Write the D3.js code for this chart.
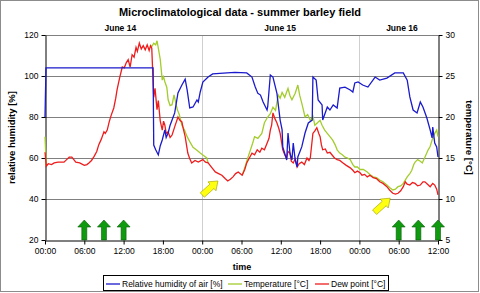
<!DOCTYPE html>
<html>
<head>
<meta charset="utf-8">
<script src="https://cdn.jsdelivr.net/npm/d3@7"></script>
<style>
  body { margin: 0; background: #fff; }
  svg { display: block; font-family: "Liberation Sans", Arial, sans-serif; }
</style>
</head>
<body>
<div id="chart"></div>
<script>
// hours since June 14 00:00
const rhTime = [0.0, 0.15, 16.5, 16.6, 16.9, 17.3, 17.6, 17.9, 18.3, 18.5, 18.8, 19.1, 19.4, 19.8, 20.3, 20.9, 21.4, 21.7, 22.1, 22.6, 23.2, 23.4, 23.7, 24.1, 24.9, 25.6, 27.8, 29.0, 30.8, 31.6, 32.1, 32.5, 32.9, 33.3, 33.9, 34.0, 34.4, 34.8, 35.4, 35.9, 36.2, 36.3, 36.9, 37.1, 37.4, 37.7, 37.9, 38.2, 38.5, 38.6, 39.2, 39.7, 40.2, 40.8, 40.9, 41.4, 41.7, 42.3, 42.4, 43.1, 43.5, 44.0, 44.6, 45.0, 45.8, 46.6, 47.0, 47.3, 47.8, 48.5, 49.3, 50.4, 51.1, 52.2, 53.4, 54.7, 55.3, 55.7, 56.2, 56.8, 57.3, 57.7, 58.3, 58.8, 59.1, 59.2, 59.5, 59.8, 60.0];
const rhValue = [80, 104, 104, 66.3, 64, 61.5, 66, 68.8, 73.7, 70, 72.2, 76, 78.5, 82, 91.7, 95.6, 98.5, 93.2, 84.4, 84.9, 88.3, 87.3, 92.2, 97, 99.5, 101, 101.5, 101.8, 101.5, 99.5, 94.6, 91.5, 90.7, 87.3, 83.4, 85, 100.5, 99.5, 91.7, 78.5, 73.7, 65.4, 59, 72.2, 62.4, 59, 67.3, 59, 55.6, 60.5, 65.4, 72.2, 77.1, 78.5, 99.5, 98, 88.3, 85.9, 78.5, 84.9, 83.4, 85.9, 84.4, 94.1, 94.6, 93.2, 92.2, 96.6, 97.1, 95.6, 94.6, 99.5, 98, 99, 101.5, 101.5, 98, 89.8, 83.4, 82, 87.3, 84.9, 79.5, 73.7, 69.8, 75.1, 67.3, 65.4, 60.5];

const tempTime = [0.0, 0.2, null, 16.1, 16.3, 16.6, 16.9, 17.1, 17.3, 17.6, 17.9, 18.1, 18.3, 18.6, 18.8, 19.1, 19.4, 19.7, 19.9, 20.2, 20.5, 20.9, 21.3, 21.7, 22.1, 22.6, 23.1, 23.7, 24.2, 24.7, 24.9, null, 30.1, 30.5, 30.8, 31.2, 31.7, 32.0, 32.5, 33.1, 33.5, 34.0, 34.4, 34.8, 35.2, 35.6, 35.9, 36.2, 36.6, 37.1, 37.4, 37.7, 38.2, 38.6, 38.9, 39.2, 39.7, 40.1, 40.5, 40.9, 41.2, 41.6, 42.0, 42.3, 42.7, 43.1, 43.5, 43.9, 44.3, 44.6, 45.0, 45.4, 45.8, 46.2, 46.6, 47.0, 47.3, 47.7, 48.1, 48.6, 49.2, 49.6, 50.1, 50.6, 51.1, 51.6, 52.2, 52.6, 53.1, 53.5, 53.9, 54.3, 54.7, 55.0, 55.3, 55.7, 56.0, 56.3, 56.5, 56.9, 57.3, 57.6, 58.0, 58.5, 58.8, 59.1, 59.5, 59.8, 60.0];
const tempValue = [17.6, 14.0, null, 28.7, 28.6, 29.0, 28.8, 29.3, 28.4, 27.0, 24.5, 24.9, 24.3, 23.6, 22.1, 21.4, 21.5, 22.7, 22.0, 20.9, 20.3, 19.0, 18.4, 17.6, 17.0, 16.3, 16.0, 15.6, 15.3, 15.0, 14.4, null, 12.9, 13.8, 14.6, 15.6, 16.8, 17.6, 17.4, 18.0, 19.3, 20.0, 20.4, 21.2, 20.8, 22.7, 22.3, 23.0, 22.4, 23.5, 22.6, 22.1, 22.9, 23.9, 22.6, 21.7, 20.0, 20.3, 19.6, 20.1, 19.0, 19.3, 19.6, 19.0, 18.4, 18.0, 17.6, 17.2, 16.6, 16.0, 15.6, 15.4, 15.1, 15.0, 14.8, 14.2, 13.9, 13.9, 13.6, 13.6, 13.3, 13.0, 12.7, 12.6, 12.3, 12.1, 11.7, 11.4, 11.1, 11.2, 11.5, 11.6, 11.9, 12.3, 12.7, 13.1, 13.5, 14.2, 14.5, 14.8, 14.6, 14.4, 15.1, 16.0, 16.4, 17.2, 18.0, 18.4, 17.6];

const dewTime = [0.0, 0.2, 0.5, 1.0, 1.4, 2.0, 2.9, 3.3, 3.7, 4.1, 4.4, 4.7, 5.3, 6.0, 6.4, 6.7, 7.1, 7.5, 7.9, 8.2, 8.6, 9.0, 9.2, 9.5, 9.8, 10.1, 10.5, 10.8, 11.0, 11.4, 11.8, 12.1, 12.4, 12.7, 13.0, 13.3, 13.6, 13.9, 14.1, 14.4, 14.7, 15.0, 15.3, 15.6, 15.9, 16.1, 16.3, 16.6, 16.8, 17.1, 17.3, 17.6, 17.9, 18.1, 18.3, 18.5, 18.8, 19.1, 19.4, 19.8, 20.3, 20.6, 20.9, 21.1, 21.4, 21.8, 22.1, 22.4, 22.9, 23.4, 24.1, 24.5, 24.9, 25.5, 26.0, 26.5, 27.0, 27.5, 27.9, 28.3, 28.7, 29.1, 29.5, 30.1, 30.5, 30.8, 31.2, 31.6, 32.0, 32.4, 32.8, 33.1, 33.5, 33.9, 34.2, 34.4, 34.6, 34.8, 35.1, 35.4, 35.7, 35.9, 36.1, 36.3, 36.6, 36.9, 37.1, 37.4, 37.6, 37.9, 38.2, 38.5, 38.8, 39.2, 39.6, 40.0, 40.3, 40.5, 40.7, 40.9, 41.2, 41.5, 41.8, 42.0, 42.2, 42.4, 42.8, 43.1, 43.5, 43.8, 44.2, 44.6, 45.0, 45.5, 46.0, 46.6, 47.0, 47.3, 47.7, 48.1, 48.4, 48.8, 49.2, 49.6, 50.1, 50.6, 51.1, 51.6, 52.2, 52.6, 53.1, 53.5, 53.9, 54.3, 54.7, 55.0, 55.3, 55.7, 56.1, 56.5, 56.9, 57.3, 57.7, 58.0, 58.4, 58.8, 59.2, 59.5, 59.8, 60.0];
const dewValue = [15.7, 14.0, 14.3, 14.2, 14.4, 14.5, 14.5, 14.8, 15.1, 15.1, 14.8, 14.5, 14.4, 14.1, 14.2, 14.4, 14.7, 15.2, 15.8, 16.6, 17.3, 18.2, 18.0, 18.4, 19.4, 20.2, 21.1, 22.3, 23.3, 24.8, 26.1, 26.0, 26.6, 27.0, 26.1, 27.6, 27.3, 28.5, 28.0, 29.0, 28.3, 28.7, 28.2, 28.8, 28.1, 28.7, 28.4, 22.4, 23.5, 20.9, 22.0, 19.5, 18.4, 19.5, 19.0, 18.0, 18.2, 17.5, 17.8, 18.8, 20.0, 19.6, 19.4, 18.6, 17.6, 15.6, 14.9, 14.4, 14.7, 14.5, 14.8, 14.5, 14.4, 13.8, 13.3, 13.1, 12.9, 12.5, 12.2, 12.4, 12.7, 13.1, 13.3, 12.9, 13.6, 14.4, 15.0, 15.6, 15.4, 16.0, 15.7, 16.2, 16.0, 16.8, 17.4, 18.4, 19.0, 20.5, 19.8, 19.3, 18.6, 18.0, 17.0, 16.0, 15.4, 15.0, 15.8, 15.6, 14.6, 14.4, 14.9, 13.9, 14.3, 14.5, 14.2, 15.0, 14.7, 15.0, 16.5, 18.0, 18.3, 18.7, 18.0, 17.6, 16.6, 16.0, 16.1, 15.6, 15.7, 15.4, 15.0, 14.8, 14.7, 14.4, 14.1, 13.8, 13.5, 13.2, 13.4, 13.2, 12.9, 13.0, 12.7, 12.9, 12.6, 12.5, 12.1, 11.9, 11.5, 11.1, 10.7, 10.6, 10.7, 11.0, 11.5, 12.1, 11.8, 11.7, 12.0, 11.9, 11.6, 11.7, 12.1, 12.1, 11.8, 11.5, 11.9, 11.7, 11.2, 10.5];

const rhTicks = [20, 40, 60, 80, 100, 120];
const tempTicks = [5, 10, 15, 20, 25, 30];
const timeTicks = [0, 6, 12, 18, 24, 30, 36, 42, 48, 54, 60];
const dayLabels = ["June 14", "June 15", "June 16"];
const dayLabelTimes = [11.5, 35.9, 54.5];
const dayBreaks = [24, 48];
const greenArrowTimes = [6, 9, 12, 54, 57, 60];
const yellowArrowTimes = [26.4, 52.7];
const yellowArrowTemps = [12.2, 10.1];

const width = 480;
const height = 293;

const x = d3.scaleLinear().domain([0, 60]).range([45, 438]);
const yRH = d3.scaleLinear().domain([20, 120]).range([240, 35]);
const yT = d3.scaleLinear().domain([5, 30]).range([240, 35]);

const svg = d3.select("#chart")
  .append("svg")
    .attr("width", width)
    .attr("height", height);

svg.append("rect")
  .attr("x", 0.5).attr("y", 0.5)
  .attr("width", width - 2).attr("height", height - 2)
  .attr("fill", "#fff")
  .attr("stroke", "#8c8c8c");

// grid
svg.append("g")
  .selectAll("line")
  .data(dayBreaks)
  .join("line")
    .attr("x1", d => Math.round(x(d)) + 0.5).attr("x2", d => Math.round(x(d)) + 0.5)
    .attr("y1", yRH(120)).attr("y2", yRH(20))
    .attr("stroke", "#cfcfcf");

svg.append("g")
  .selectAll("line")
  .data(rhTicks.slice(1))
  .join("line")
    .attr("x1", x(0)).attr("x2", x(60))
    .attr("y1", d => Math.round(yRH(d)) + 0.5).attr("y2", d => Math.round(yRH(d)) + 0.5)
    .attr("stroke", "#808080");

// axes
const fmtTime = d => String(d % 24).padStart(2, "0") + ":00";

const gx = svg.append("g")
  .attr("transform", `translate(0,${yRH(20) + 0.5})`)
  .call(d3.axisBottom(x).tickValues(timeTicks).tickFormat(fmtTime).tickSize(4).tickSizeOuter(0).tickPadding(3));

const gl = svg.append("g")
  .attr("transform", `translate(${x(0) + 0.5},0)`)
  .call(d3.axisLeft(yRH).tickValues(rhTicks).tickSize(4).tickSizeOuter(0).tickPadding(3));

const gr = svg.append("g")
  .attr("transform", `translate(${x(60) + 0.5},0)`)
  .call(d3.axisRight(yT).tickValues(tempTicks).tickSize(4).tickSizeOuter(0).tickPadding(3));

[gx, gl, gr].forEach(g => {
  g.selectAll("text").attr("font-size", 8.5).attr("fill", "#000").attr("font-family", "Liberation Sans, Arial, sans-serif");
  g.selectAll("line").attr("stroke", "#000");
  g.select(".domain").attr("stroke", "#000");
});

// lines
const line = (xs, ys, yScale) => d3.line()
  .defined((d, i) => xs[i] != null && ys[i] != null)
  .x((d, i) => x(xs[i]))
  .y((d, i) => yScale(ys[i]))(xs);

svg.append("path")
  .attr("d", line(tempTime, tempValue, yT))
  .attr("fill", "none").attr("stroke", "#a3cc2c").attr("stroke-width", 1.3);

svg.append("path")
  .attr("d", line(dewTime, dewValue, yT))
  .attr("fill", "none").attr("stroke", "#ee1c1c").attr("stroke-width", 1.3);

svg.append("path")
  .attr("d", line(rhTime, rhValue, yRH))
  .attr("fill", "none").attr("stroke", "#1a1acc").attr("stroke-width", 1.3);

// arrows
svg.append("g")
  .selectAll("path")
  .data(greenArrowTimes)
  .join("path")
    .attr("transform", d => `translate(${x(d)},${yRH(20)})`)
    .attr("d", "M-2.5,0 L-2.5,-13 L-6.5,-13 L0,-20 L6.5,-13 L2.5,-13 L2.5,0 Z")
    .attr("fill", "#109a10")
    .attr("stroke", "#0a5a0a")
    .attr("stroke-width", 0.6);

svg.append("g")
  .selectAll("path")
  .data(yellowArrowTimes)
  .join("path")
    .attr("transform", (d, i) => `translate(${x(d)},${yT(yellowArrowTemps[i])}) rotate(-42)`)
    .attr("d", "M0,0 L-8,-6 L-8,-3 L-21,-3 L-21,3 L-8,3 L-8,6 Z")
    .attr("fill", "#ffff10")
    .attr("stroke", "#a0a000")
    .attr("stroke-width", 0.6);

// texts
svg.append("text")
  .attr("x", 240).attr("y", 16)
  .attr("text-anchor", "middle")
  .attr("font-size", 11).attr("font-weight", "bold")
  .text("Microclimatological data - summer barley field");

svg.append("g")
  .selectAll("text")
  .data(dayLabels)
  .join("text")
    .attr("x", (d, i) => x(dayLabelTimes[i]))
    .attr("y", 31)
    .attr("text-anchor", "middle")
    .attr("font-size", 8.5).attr("font-weight", "bold")
    .text(d => d);

svg.append("text")
  .attr("transform", `translate(15,${yRH(70)}) rotate(-90)`)
  .attr("text-anchor", "middle")
  .attr("font-size", 9.5).attr("font-weight", "bold")
  .text("relative humidity [%]");

svg.append("text")
  .attr("transform", `translate(466,${yRH(70)}) rotate(90)`)
  .attr("text-anchor", "middle")
  .attr("font-size", 9.5).attr("font-weight", "bold")
  .text("temperature [°C]");

svg.append("text")
  .attr("x", 242).attr("y", 270)
  .attr("text-anchor", "middle")
  .attr("font-size", 9).attr("font-weight", "bold")
  .text("time");

// legend
const legendItems = [
  { label: "Relative humidity of air [%]", color: "#1a1acc", x: 106 },
  { label: "Temperature [°C]", color: "#a3cc2c", x: 228 },
  { label: "Dew point [°C]", color: "#ee1c1c", x: 315 }
];

svg.append("rect")
  .attr("x", 103.5).attr("y", 275.5)
  .attr("width", 285).attr("height", 15)
  .attr("fill", "#fff").attr("stroke", "#000");

const li = svg.append("g")
  .selectAll("g")
  .data(legendItems)
  .join("g")
    .attr("transform", d => `translate(${d.x},284)`);

li.append("line")
  .attr("x1", 0).attr("x2", 14)
  .attr("stroke", d => d.color).attr("stroke-width", 1.3);

li.append("text")
  .attr("x", 16).attr("y", 3)
  .attr("font-size", 8.5)
  .text(d => d.label);
</script>
</body>
</html>
